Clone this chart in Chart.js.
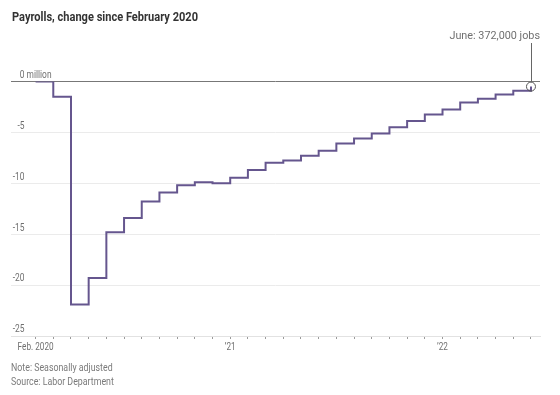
<!DOCTYPE html>
<html>
<head>
<meta charset="utf-8">
<title>Payrolls, change since February 2020</title>
<script src="https://cdn.jsdelivr.net/npm/chart.js@4.4.0/dist/chart.umd.min.js"></script>
<style>
    html, body { margin: 0; padding: 0; background: #fff; }
    #wrap { position: relative; width: 560px; height: 395px; }
    canvas { display: block; }
</style>
</head>
<body>
<div id="wrap">
    <canvas id="payrolls-chart" width="560" height="395"></canvas>
</div>
<script>
// ===================================
// Chart data
// ===================================

const months = [
    'Feb. 2020', 'Mar. 2020', 'Apr. 2020', 'May 2020', 'June 2020', 'July 2020',
    'Aug. 2020', 'Sept. 2020', 'Oct. 2020', 'Nov. 2020', 'Dec. 2020',
    'Jan. 2021', 'Feb. 2021', 'Mar. 2021', 'Apr. 2021', 'May 2021', 'June 2021',
    'July 2021', 'Aug. 2021', 'Sept. 2021', 'Oct. 2021', 'Nov. 2021', 'Dec. 2021',
    'Jan. 2022', 'Feb. 2022', 'Mar. 2022', 'Apr. 2022', 'May 2022', 'June 2022'
];

// change in payrolls since February 2020, millions of jobs
const payrollChange = [
    0, -1.5, -21.9, -19.3, -14.8, -13.4, -11.8, -10.9, -10.2, -9.9, -10.0,
    -9.45, -8.7, -7.98, -7.75, -7.3, -6.8, -6.1, -5.6, -5.1, -4.5, -3.87, -3.25,
    -2.75, -2.06, -1.7, -1.27, -0.9, -0.5
];

const yTicks = [-25, -20, -15, -10, -5, 0];
const yTickLabels = ['-25', '-20', '-15', '-10', '-5', '0'];
const yUnit = ' million';

// only these months get a label under the axis
const xTickLabels = { 0: 'Feb. 2020', 11: '\u201921', 23: '\u201922' };

const title = 'Payrolls, change since February 2020';
const callout = 'June: 372,000 jobs';
const notes = ['Note: Seasonally adjusted', 'Source: Labor Department'];

// ===================================
// Styles
// ===================================

const FONT = "'Roboto', sans-serif";
const lineColor = '#65568e';
const textGray = '#707070';

// the original uses a narrow face, so squeeze text horizontally
function drawText(ctx, text, x, y, opts) {
    ctx.save();
    ctx.font = opts.font;
    ctx.fillStyle = opts.color;
    ctx.textAlign = opts.align || 'left';
    ctx.textBaseline = opts.baseline || 'middle';
    ctx.translate(x, y);
    ctx.scale(opts.squeeze || 1, 1);
    ctx.fillText(text, 0, 0);
    ctx.restore();
}

// draws title, axis labels, callout and notes
const decorations = {
    id: 'decorations',
    afterDraw(chart) {
        const ctx = chart.ctx;
        const xScale = chart.scales.x;
        const yScale = chart.scales.y;
        const area = chart.chartArea;

        // title
        drawText(ctx, title, 12, 18, { font: `bold 13px ${FONT}`, color: '#333', squeeze: 0.85 });

        // y tick labels sit above their grid lines
        const tickFont = `10.5px ${FONT}`;
        yTicks.forEach((v, i) => {
            const y = yScale.getPixelForValue(v) - 1;
            drawText(ctx, yTickLabels[i], 24.5, y,
                { font: tickFont, color: textGray, align: 'right', baseline: 'bottom', squeeze: 0.8 });
            if (v === 0) {
                drawText(ctx, yUnit, 24.5, y,
                    { font: tickFont, color: textGray, baseline: 'bottom', squeeze: 0.8 });
            }
        });

        // x labels under the month ticks
        Object.keys(xTickLabels).forEach(i => {
            const x = xScale.getPixelForValue(Number(i));
            drawText(ctx, xTickLabels[i], x, area.bottom + 11,
                { font: tickFont, color: textGray, align: 'center', squeeze: 0.78 });
        });

        // callout for the last month
        const meta = chart.getDatasetMeta(0);
        const last = meta.data[meta.data.length - 1];
        const radius = last.options.radius;
        ctx.save();
        ctx.strokeStyle = '#666';
        ctx.lineWidth = 1;
        ctx.beginPath();
        ctx.moveTo(Math.round(last.x) + 0.5, last.y - radius);
        ctx.lineTo(Math.round(last.x) + 0.5, 43);
        ctx.stroke();
        ctx.restore();

        drawText(ctx, callout, area.right, 36,
            { font: `11.5px ${FONT}`, color: textGray, align: 'right', squeeze: 0.94 });

        // notes
        notes.forEach((n, i) => drawText(ctx, n, 11, 368 + i * 14.5,
            { font: `10.5px ${FONT}`, color: '#7a7a7a', squeeze: 0.84 }));
    }
};

const ctx = document.getElementById('payrolls-chart').getContext('2d');

new Chart(ctx, {
    type: 'line',
    data: {
        datasets: [{
            label: 'Payrolls',
            data: payrollChange.map((v, i) => ({ x: i, y: v })),
            stepped: 'before',
            borderColor: lineColor,
            borderWidth: 2,
            borderJoinStyle: 'miter',
            borderCapStyle: 'butt',
            fill: false,
            pointRadius: payrollChange.map((v, i) => i === payrollChange.length - 1 ? 4.5 : 0),
            pointBorderColor: '#555',
            pointBackgroundColor: 'rgba(0,0,0,0)',
            pointBorderWidth: 1
        }]
    },
    options: {
        responsive: false,
        animation: false,
        layout: {
            padding: { top: 81.5, left: 11, right: 20, bottom: 39 }
        },
        scales: {
            x: {
                type: 'linear',
                min: -1.39,
                max: 28.51,
                afterBuildTicks: (scale) => {
                    scale.ticks = months.map((m, i) => ({ value: i }));
                },
                afterFit: (scale) => { scale.height = 20; },
                grid: {
                    drawOnChartArea: false,
                    drawTicks: true,
                    tickLength: 3,
                    tickColor: '#9a9a9a'
                },
                border: { display: true, color: '#e2e2e2' },
                ticks: { display: false }
            },
            y: {
                min: -25,
                max: 0,
                afterBuildTicks: (scale) => {
                    scale.ticks = yTicks.map(v => ({ value: v }));
                },
                afterFit: (scale) => { scale.width = 0; },
                grid: {
                    drawTicks: false,
                    color: (c) => c.tick && c.tick.value === 0 ? '#777' : '#ebebeb'
                },
                border: { display: false },
                ticks: { display: false }
            }
        },
        plugins: {
            legend: { display: false },
            tooltip: { enabled: false }
        }
    },
    plugins: [decorations]
});
</script>
</body>
</html>
